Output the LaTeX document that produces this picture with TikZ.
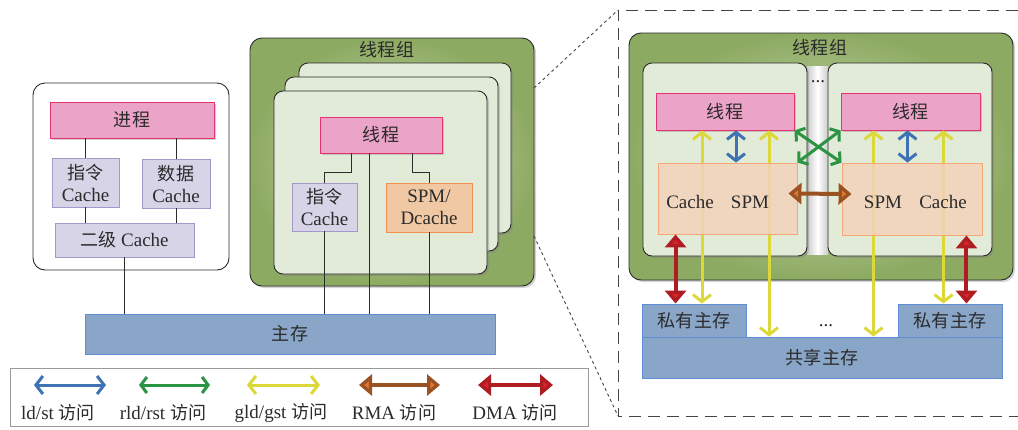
\documentclass[tikz,border=0pt]{standalone}
\usepackage{fontspec}
\setmainfont{Liberation Serif}
\newfontfamily\cjk[Scale=0.95]{Noto Sans CJK SC}
\newcommand{\zh}[1]{{\cjk #1}}
\usetikzlibrary{arrows.meta,positioning,calc,shadows}
\definecolor{ink}{HTML}{2B2B2B}
\definecolor{grpin}{HTML}{D0DEBA}
\definecolor{grpout}{HTML}{8DAA62}
\definecolor{cardfill}{HTML}{E2EAD8}
\definecolor{pinkfill}{HTML}{EBA3C7}
\definecolor{pinkdraw}{HTML}{E53370}
\definecolor{lavfill}{HTML}{D8D4E7}
\definecolor{lavdraw}{HTML}{A597C8}
\definecolor{spmfill}{HTML}{F1C8A4}
\definecolor{spmdraw}{HTML}{F39050}
\definecolor{cfill}{HTML}{F3D3BA}
\definecolor{cdraw}{HTML}{F5A873}
\definecolor{memfill}{HTML}{89A5C8}
\definecolor{memdraw}{HTML}{5B8ED2}
\definecolor{arrblue}{HTML}{3D72B4}
\definecolor{arrgreen}{HTML}{2A9443}
\definecolor{arryellow}{HTML}{DCD83A}
\definecolor{arrorange}{HTML}{DE7531}
\definecolor{arrred}{HTML}{D8242A}
\definecolor{dashgray}{HTML}{444444}
\definecolor{legdraw}{HTML}{9A9A9A}
\tikzset{
  every node/.style={font=\fontsize{19}{22}\selectfont, text=ink},
  softshadow/.style={drop shadow={shadow xshift=2pt, shadow yshift=-2pt, opacity=0.35}},
  grp/.style={draw=ink, line width=0.9pt, rounded corners=12pt, inner color=grpin, outer color=grpout, softshadow},
  card/.style={draw=ink, line width=0.9pt, rounded corners=9pt, fill=cardfill, softshadow},
  procbox/.style={draw=ink, line width=0.9pt, rounded corners=12pt, fill=white},
  pinkbox/.style={draw=pinkdraw, line width=0.9pt, fill=pinkfill, inner sep=0pt, softshadow},
  lavbox/.style={draw=lavdraw, line width=0.9pt, fill=lavfill, align=center, inner sep=0pt},
  spmbox/.style={draw=spmdraw, line width=0.9pt, fill=spmfill, align=center, inner sep=0pt},
  cbox/.style={draw=cdraw, line width=0.9pt, fill=cfill, fill opacity=0.85, inner sep=0pt},
  membox/.style={draw=memdraw, line width=0.9pt, fill=memfill, inner sep=0pt},
  legendbox/.style={draw=legdraw, line width=0.9pt, fill=white, inner sep=0pt},
  wire/.style={draw=ink, line width=0.8pt},
  zoomline/.style={draw=dashgray, line width=0.9pt, dashed},
  dashbox/.style={draw=dashgray, line width=1pt, dash pattern=on 12pt off 7pt},
  ldst/.style={draw=arrblue, line width=3pt, {Straight Barb[length=7pt,width=18pt]}-{Straight Barb[length=7pt,width=18pt]}},
  rldst/.style={draw=arrgreen, line width=3pt, {Straight Barb[length=6pt,width=16pt]}-{Straight Barb[length=6pt,width=16pt]}},
  gldst/.style={draw=arryellow, line width=3pt, {Straight Barb[length=7pt,width=18pt]}-{Straight Barb[length=7pt,width=18pt]}},
  rma/.style={draw=arrorange!70!black, line width=4pt, {Triangle[length=13pt,width=21pt,fill=arrorange]}-{Triangle[length=13pt,width=21pt,fill=arrorange]}},
  dma/.style={draw=arrred!80!black, line width=4pt, {Triangle[length=13pt,width=21pt,fill=arrred]}-{Triangle[length=13pt,width=21pt,fill=arrred]}},
}

\begin{document}
\begin{tikzpicture}[x=1pt, y=-1pt]
\useasboundingbox (0,0) rectangle (1018,429);

% process
\node[procbox, minimum width=196pt, minimum height=187pt] (pw) at (131,176.5) {};
\node[pinkbox, minimum width=164pt, minimum height=36pt] (jc) at (132,120) {\zh{进程}};
\node[lavbox, minimum width=67pt, minimum height=49pt] (zl) at (85.5,182.5) {\zh{指令}\\Cache};
\node[lavbox, minimum width=68pt, minimum height=49pt] (sj) at (176,183.5) {\zh{数据}\\Cache};
\node[lavbox, minimum width=139pt, minimum height=34pt] (ej) at (124.5,240) {\zh{二级} Cache};
\draw[wire] (zl.north) -- (zl.north |- jc.south);
\draw[wire] (sj.north) -- (sj.north |- jc.south);
\draw[wire] (zl.south) -- (zl.south |- ej.north);
\draw[wire] (sj.south) -- (sj.south |- ej.north);

% thread group
\node[grp, minimum width=284pt, minimum height=248pt] (tg) at (392,162) {};
\node (tgt) at (387,50) {\zh{线程组}};
\node[card, minimum width=212pt, minimum height=170pt] (k3) at (405,148) {};
\node[card, minimum width=213pt, minimum height=174pt] (k2) at (391.5,164) {};
\node[card, minimum width=213pt, minimum height=183pt] (k1) at (380.5,182.5) {};
\node[pinkbox, minimum width=122pt, minimum height=36pt] (xc) at (381,135) {\zh{线程}};
\node[lavbox, minimum width=65pt, minimum height=48pt] (zl2) at (324.5,207) {\zh{指令}\\Cache};
\node[spmbox, minimum width=86pt, minimum height=49pt] (spm) at (429,207.5) {SPM/\\Dcache};

% main memory
\node[membox, minimum width=410pt, minimum height=40pt] (zc) at (290,334) {\zh{主存}};
\draw[wire] (ej.south) -- (ej.south |- zc.north);
\draw[wire] ([xshift=-30pt]xc.south) |- ([yshift=10pt]zl2.north) -- (zl2.north);
\draw[wire] ([xshift=31pt]xc.south) |- ([yshift=10pt]spm.north) -- (spm.north);
\draw[wire] ([xshift=-12pt]xc.south) -- ([xshift=-12pt]xc.south |- zc.north);
\draw[wire] (zl2.south) -- (zl2.south |- zc.north);
\draw[wire] (spm.south) -- (spm.south |- zc.north);

% zoom
\coordinate (zt) at (534,88);
\coordinate (zb) at (534,236);
\coordinate (dtl) at (618,10);
\coordinate (dbl) at (618,416);
\draw[zoomline] (zt) -- (dtl);
\draw[zoomline] (zb) -- (dbl);
\draw[dashbox] (1018,10) -| (dbl) -- (1018,416);

% right thread group
\node[grp, minimum width=384pt, minimum height=247pt] (rg) at (821,156.5) {};
\node (rgt) at (820,48) {\zh{线程组}};
\shade[left color=black!20, right color=black!20, middle color=white] (807,66) rectangle (828,254);
\node[card, minimum width=164pt, minimum height=193pt] (kl) at (725,159.5) {};
\node[card, minimum width=164pt, minimum height=193pt] (kr) at (910,159.5) {};
\node (dt1) at (818,82) {...};
\node[pinkbox, minimum width=138pt, minimum height=37pt] (xl) at (725,111.5) {\zh{线程}};
\node[pinkbox, minimum width=139pt, minimum height=37pt] (xr) at (910.5,111.5) {\zh{线程}};

% memories
\node[membox, minimum width=104pt, minimum height=33pt] (pl) at (694,320.5) {\zh{私有主存}};
\node[membox, minimum width=104pt, minimum height=33pt] (pr) at (950,320.5) {\zh{私有主存}};
\node[membox, minimum width=360pt, minimum height=41pt] (gx) at (822,357.5) {\zh{共享主存}};
\node (dt2) at (826,326) {...};

% gld/gst
\draw[gldst] ([xshift=-23pt]xl.south) -- ([xshift=-23pt]xl.south |- pl.north);
\draw[gldst] ([xshift=44pt]xl.south) -- ([xshift=44pt]xl.south |- gx.north);
\draw[gldst] ([xshift=-37pt]xr.south) -- ([xshift=-37pt]xr.south |- gx.north);
\draw[gldst] ([xshift=33pt]xr.south) -- ([xshift=33pt]xr.south |- pr.north);

\node[cbox, minimum width=139pt, minimum height=71pt] (cl) at (727.5,198.5) {};
\node[cbox, minimum width=140pt, minimum height=72pt] (cr) at (912,199) {};
\node (clc) at (690,202) {Cache};
\node (cls) at (750,202) {SPM};
\node (crs) at (883,202) {SPM};
\node (crc) at (943,202) {Cache};

% ld/st, rld/rst, RMA, DMA
\draw[ldst] ([xshift=11pt]xl.south) -- ([xshift=11pt]xl.south |- cl.north);
\draw[ldst] ([xshift=-3pt]xr.south) -- ([xshift=-3pt]xr.south |- cr.north);
\draw[rldst] (xl.south east) -- (cr.north west);
\draw[rldst] (xr.south west) -- (cl.north east);
\draw[rma] ([xshift=-9pt,yshift=5pt]cl.east) -- ([xshift=10pt,yshift=5pt]cr.west);
\draw[dma] ([xshift=18pt]cl.south west) -- ([xshift=18pt]cl.south west |- pl.north);
\draw[dma] ([xshift=-16pt]cr.south east) -- ([xshift=-16pt]cr.south east |- pr.north);

% legend
\node[legendbox, minimum width=578pt, minimum height=58pt] (lg) at (299,397) {};
\node (l1) at (58,413) {ld/st \zh{访问}};
\node (l2) at (163,413) {rld/rst \zh{访问}};
\node (l3) at (281,413) {gld/gst \zh{访问}};
\node (l4) at (394,413) {RMA \zh{访问}};
\node (l5) at (515,413) {DMA \zh{访问}};
\coordinate (a1) at (34,385); \coordinate (b1) at (106,385);
\coordinate (a2) at (139,385); \coordinate (b2) at (210,385);
\coordinate (a3) at (247,385); \coordinate (b3) at (320,385);
\coordinate (a4) at (359,385); \coordinate (b4) at (440,385);
\coordinate (a5) at (478,385); \coordinate (b5) at (553,385);
\draw[ldst] (a1) -- (b1);
\draw[rldst] (a2) -- (b2);
\draw[gldst] (a3) -- (b3);
\draw[rma] (a4) -- (b4);
\draw[dma] (a5) -- (b5);
\end{tikzpicture}
\end{document}
